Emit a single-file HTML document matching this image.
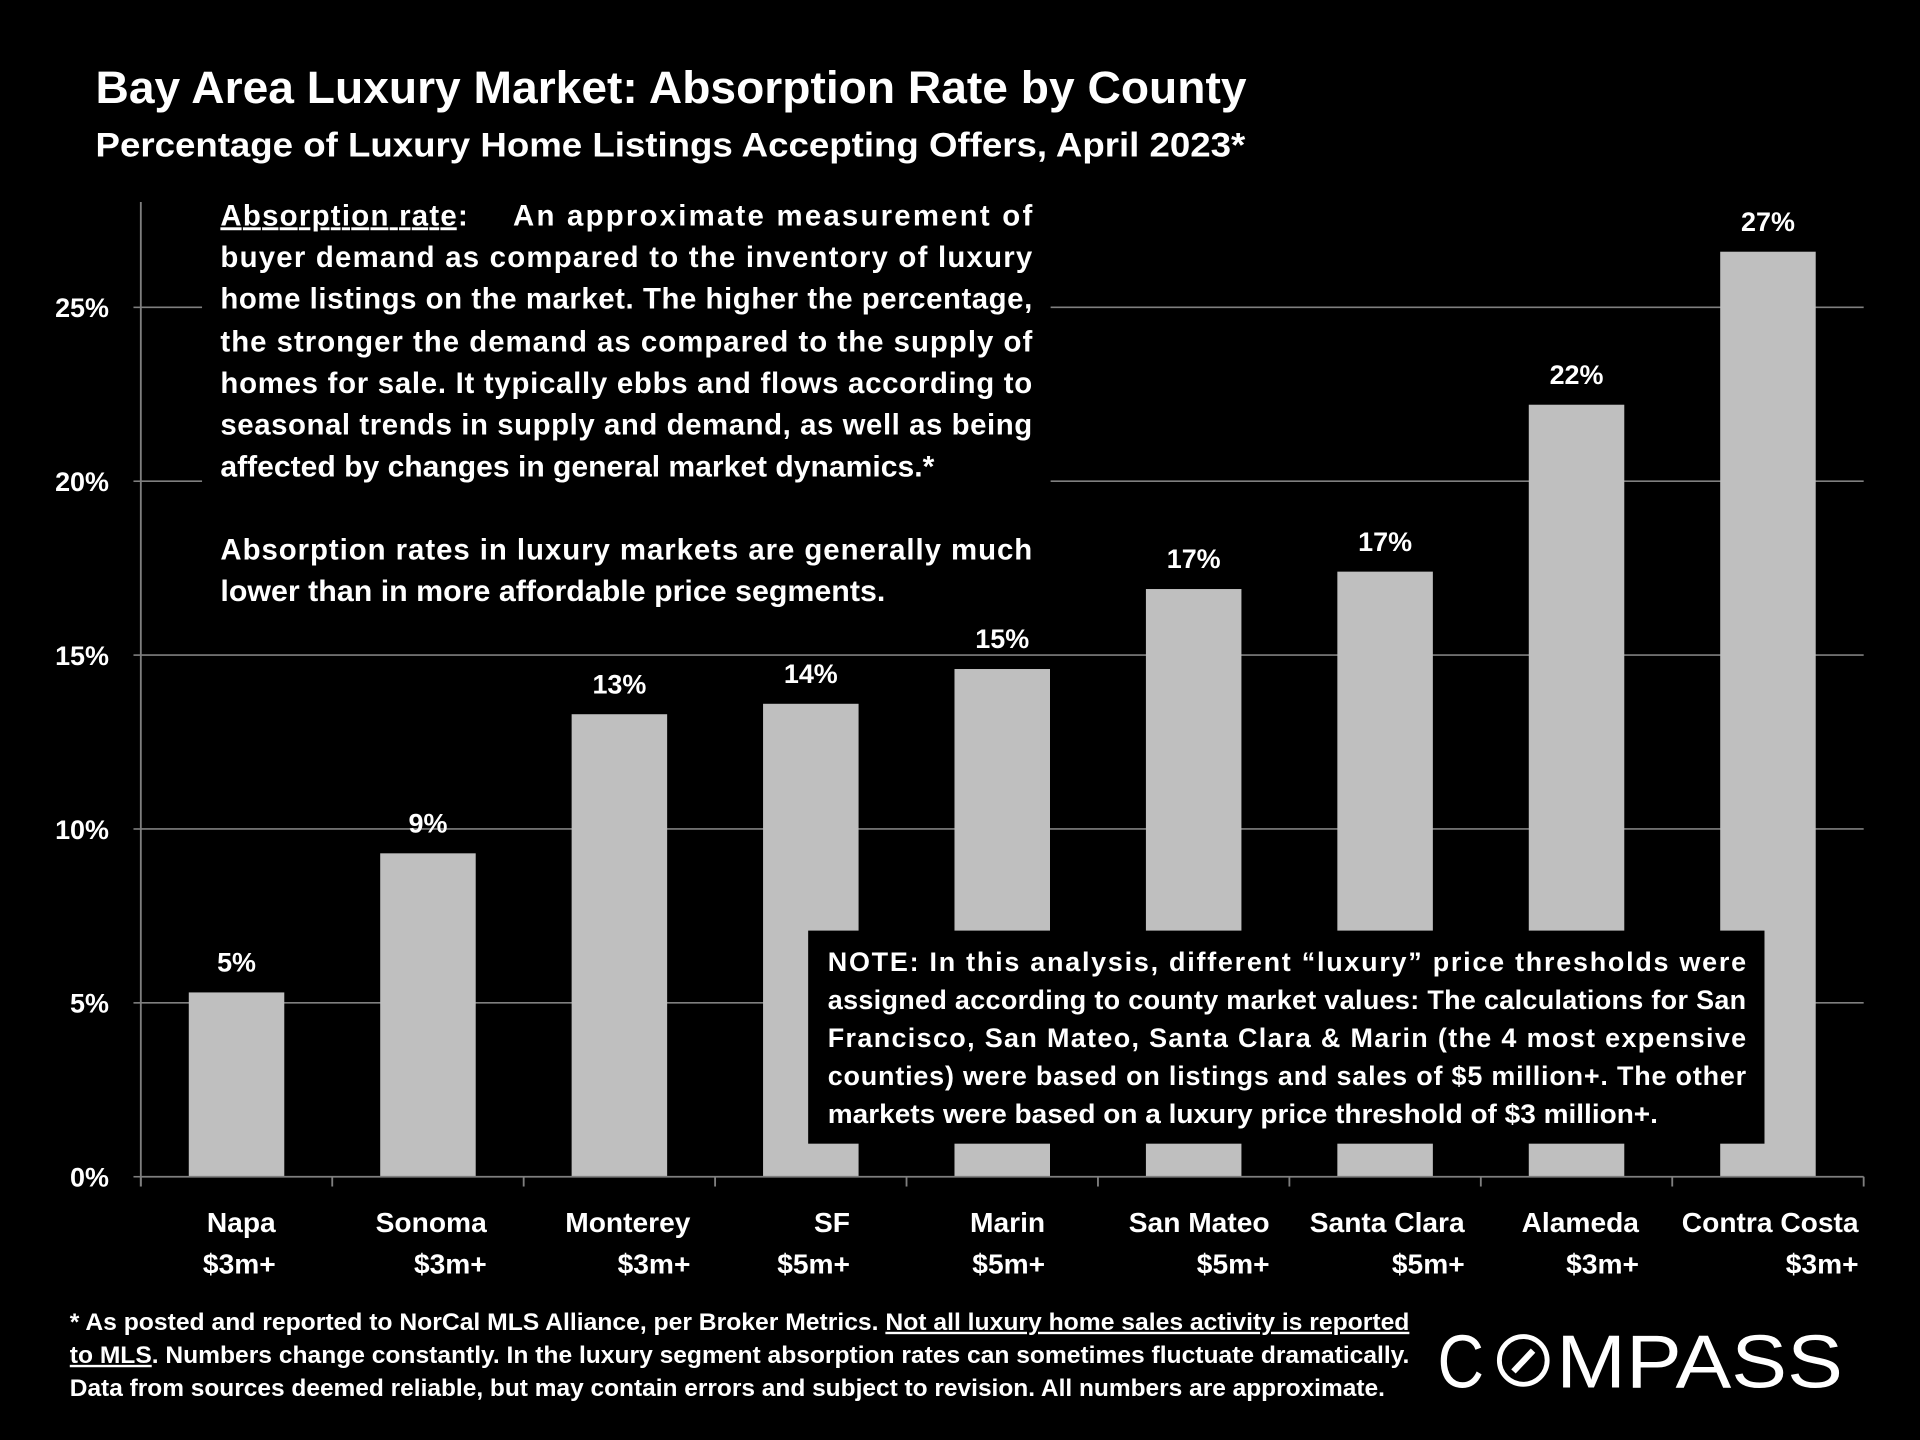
<!DOCTYPE html>
<html><head><meta charset="utf-8"><style>
html,body{margin:0;padding:0;background:#000;}
svg{display:block;}
text{font-family:"Liberation Sans",sans-serif;font-weight:bold;fill:#fff;}
</style></head><body>
<svg id="chart" width="1920" height="1440" viewBox="0 0 1568 1176" xmlns="http://www.w3.org/2000/svg">
<rect width="1568" height="1176" fill="#000"/>
<text x="78" y="84" font-size="37" textLength="940" lengthAdjust="spacingAndGlyphs">Bay Area Luxury Market: Absorption Rate by County</text>
<text x="78" y="128" font-size="28" textLength="939" lengthAdjust="spacingAndGlyphs">Percentage of Luxury Home Listings Accepting Offers, April 2023*</text>
<g id="grid"></g>
<g id="yticks"></g>
<rect x="165" y="160" width="693" height="345" fill="#000"/>
<g id="bars"></g>
<g id="xaxis"></g>
<g font-size="24">
<text x="180" y="184"><tspan text-decoration="underline" textLength="193" lengthAdjust="spacing">Absorption rate</tspan>:</text>
<text x="419" y="184" textLength="424" lengthAdjust="spacing">An approximate measurement of</text>
<text x="180" y="218" textLength="663" lengthAdjust="spacing">buyer demand as compared to the inventory of luxury</text>
<text x="180" y="252" textLength="663" lengthAdjust="spacing">home listings on the market. The higher the percentage,</text>
<text x="180" y="287" textLength="663" lengthAdjust="spacing">the stronger the demand as compared to the supply of</text>
<text x="180" y="321" textLength="663" lengthAdjust="spacing">homes for sale. It typically ebbs and flows according to</text>
<text x="180" y="355" textLength="663" lengthAdjust="spacing">seasonal trends in supply and demand, as well as being</text>
<text x="180" y="389" textLength="583" lengthAdjust="spacingAndGlyphs">affected by changes in general market dynamics.*</text>
<text x="180" y="457" textLength="663" lengthAdjust="spacing">Absorption rates in luxury markets are generally much</text>
<text x="180" y="491" textLength="543" lengthAdjust="spacingAndGlyphs">lower than in more affordable price segments.</text>
</g>
<rect x="660" y="760" width="781" height="174" fill="#000"/>
<g font-size="22">
<text x="676" y="793" textLength="750" lengthAdjust="spacing">NOTE: In this analysis, different “luxury” price thresholds were</text>
<text x="676" y="824" textLength="750" lengthAdjust="spacing">assigned according to county market values:  The calculations for San</text>
<text x="676" y="855" textLength="750" lengthAdjust="spacing">Francisco, San Mateo, Santa Clara &amp; Marin (the 4 most expensive</text>
<text x="676" y="886" textLength="750" lengthAdjust="spacing">counties) were based on listings and sales of $5 million+. The other</text>
<text x="676" y="917" textLength="678" lengthAdjust="spacingAndGlyphs">markets were based on a luxury price threshold of $3 million+.</text>
</g>
<g font-size="19.5">
<text x="57" y="1086" textLength="1094" lengthAdjust="spacingAndGlyphs">* As posted and reported to NorCal MLS Alliance, per Broker Metrics. <tspan text-decoration="underline">Not all luxury home sales activity is reported</tspan></text>
<text x="57" y="1113" textLength="1094" lengthAdjust="spacingAndGlyphs"><tspan text-decoration="underline">to MLS</tspan>. Numbers change constantly. In the luxury segment absorption rates can sometimes fluctuate dramatically.</text>
<text x="57" y="1140" textLength="1074" lengthAdjust="spacingAndGlyphs">Data from sources deemed reliable, but may contain errors and subject to revision. All numbers are approximate.</text>
</g>
<g>
<text x="1174" y="1133" font-size="61" style="font-weight:normal" textLength="38" lengthAdjust="spacingAndGlyphs">C</text>
<circle cx="1244" cy="1111" r="19.5" fill="none" stroke="#fff" stroke-width="4"/>
<line x1="1236" y1="1120" x2="1252" y2="1103" stroke="#fff" stroke-width="5"/>
<text x="1271" y="1133" font-size="61" style="font-weight:normal" textLength="234" lengthAdjust="spacingAndGlyphs">MPASS</text>
</g>
</svg>
<script>
const categories = ["Napa","Sonoma","Monterey","SF","Marin","San Mateo","Santa Clara","Alameda","Contra Costa"];
const thresholds = ["$3m+","$3m+","$3m+","$5m+","$5m+","$5m+","$5m+","$3m+","$3m+"];
const values = [5.3, 9.3, 13.3, 13.6, 14.6, 16.9, 17.4, 22.2, 26.6];
const valueLabels = ["5%","9%","13%","14%","15%","17%","17%","22%","27%"];
const yTicks = [0,5,10,15,20,25];
const yTickLabels = ["0%","5%","10%","15%","20%","25%"];

const NS = "http://www.w3.org/2000/svg";
const X0 = 115, X1 = 1522, Y0 = 961, PER = 28.4;
const step = (X1 - X0) / categories.length;
const labelOffsets = [32,48,58,32,35,62,65,51,74];
function yScale(v){ return Y0 - v * PER; }
function xCenter(i){ return X0 + step * (i + 0.5); }
function mk(tag, attrs, parent){
  const e = document.createElementNS(NS, tag);
  for (const k in attrs) e.setAttribute(k, attrs[k]);
  parent.appendChild(e); return e;
}
const grid = document.getElementById('grid');
const yt = document.getElementById('yticks');
yTicks.forEach((t, i) => {
  if (t > 0) {
    const l = mk('line', {x1: X0, x2: X1, y1: yScale(t), y2: yScale(t), stroke: '#7f7f7f', 'stroke-width': 1.3}, grid);
    
    
  }
  const tx = mk('text', {x: 89, y: yScale(t) + 8, 'text-anchor': 'end', 'font-size': 22}, yt);
  tx.textContent = yTickLabels[i];
  
  
  const tk = mk('line', {x1: X0 - 6, x2: X0, y1: yScale(t), y2: yScale(t), stroke: '#7f7f7f', 'stroke-width': 1.3}, yt);
  
  
});
const bars = document.getElementById('bars');
const bw = 78;
values.forEach((v, i) => {
  const cx = xCenter(i);
  const r = mk('rect', {x: cx - bw/2, y: yScale(v), width: bw, height: Y0 - yScale(v), fill: '#bfbfbf'}, bars);
  
  
  const t = mk('text', {x: cx, y: yScale(v) - 17, 'text-anchor': 'middle', 'font-size': 22}, bars);
  t.textContent = valueLabels[i];
  
  
});
const xa = document.getElementById('xaxis');
const ax = mk('line', {x1: X0, x2: X1, y1: Y0, y2: Y0, stroke: '#7f7f7f', 'stroke-width': 1.5}, xa);


const yl = mk('line', {x1: X0, x2: X0, y1: 165, y2: Y0 + 8, stroke: '#7f7f7f', 'stroke-width': 1.5}, xa);


for (let i = 0; i <= categories.length; i++) {
  const tk = mk('line', {x1: X0 + step*i, x2: X0 + step*i, y1: Y0, y2: Y0 + 8, stroke: '#7f7f7f', 'stroke-width': 1.5}, xa);
  
  
}
categories.forEach((c, i) => {
  const ex = xCenter(i) + labelOffsets[i];
  const t1 = mk('text', {x: ex, y: 1006, 'text-anchor': 'end', 'font-size': 23}, xa);
  t1.textContent = c;
  
  
  const t2 = mk('text', {x: ex, y: 1040, 'text-anchor': 'end', 'font-size': 23}, xa);
  t2.textContent = thresholds[i];
  
  
});
</script>
</body></html>
